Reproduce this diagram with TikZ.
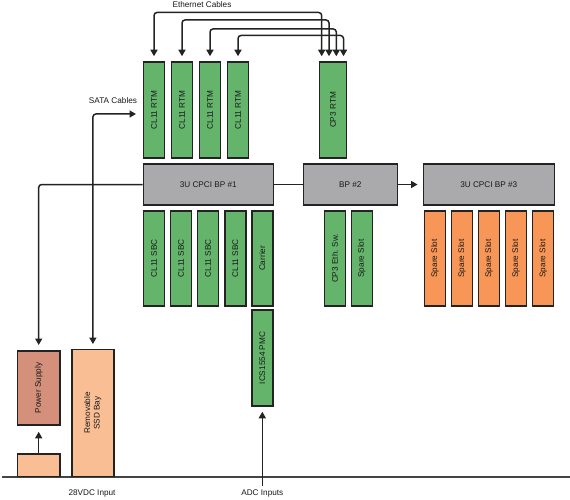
\documentclass[tikz,border=0pt]{standalone}
\usepackage{fontspec}
\setmainfont{Liberation Sans}
\usetikzlibrary{arrows.meta}
\definecolor{grn}{RGB}{100,180,108}
\definecolor{bpg}{RGB}{170,169,171}
\definecolor{org}{RGB}{247,150,86}
\definecolor{psc}{RGB}{212,144,122}
\definecolor{ssdc}{RGB}{250,190,148}
\definecolor{edge}{RGB}{35,35,35}
\definecolor{txt}{RGB}{25,25,25}
\definecolor{gnd}{RGB}{68,68,68}
\tikzset{
  box/.style={draw=edge, line width=1.5pt, inner sep=0pt, text=txt, font=\fontsize{8.2}{9.5}\selectfont},
  slot/.style={box, minimum width=21pt, minimum height=96pt},
  gslot/.style={slot, fill=grn},
  oslot/.style={slot, fill=org},
  bp/.style={box, fill=bpg, minimum height=41pt},
  conn/.style={draw=edge, line width=1.5pt, rounded corners=3pt},
  tip/.tip={Triangle[length=6.5pt,width=7pt]},
  lbl/.style={text=txt, inner sep=0pt, font=\fontsize{8.2}{9.5}\selectfont},
}
\begin{document}
\begin{tikzpicture}[x=1pt,y=-1pt]
\useasboundingbox (0,0) rectangle (570,500);
% ground line
\coordinate (gl) at (2,476.7);
\coordinate (gr) at (570,476.7);
\draw[gnd, line width=2.2pt] (gl) -- (gr);
% RTMs
\node[gslot] (r1) at (154,110) {\rotatebox{90}{CL11 RTM}};
\node[gslot] (r2) at (182,110) {\rotatebox{90}{CL11 RTM}};
\node[gslot] (r3) at (210,110) {\rotatebox{90}{CL11 RTM}};
\node[gslot] (r4) at (238,110) {\rotatebox{90}{CL11 RTM}};
\node[gslot, minimum width=27pt] (cp3) at (333,110) {\rotatebox{90}{CP3 RTM}};
% backplanes
\node[bp, minimum width=130pt] (bp1) at (208.3,184.5) {3U CPCI BP \#1};
\node[bp, minimum width=94pt] (bp2) at (350.3,184.5) {BP \#2};
\node[bp, minimum width=131pt] (bp3) at (488.8,184.5) {3U CPCI BP \#3};
% SBCs
\node[gslot, minimum height=95pt] (s1) at (154,258.4) {\rotatebox{90}{CL11 SBC}};
\node[gslot, minimum height=95pt] (s2) at (181,258.4) {\rotatebox{90}{CL11 SBC}};
\node[gslot, minimum height=95pt] (s3) at (208,258.4) {\rotatebox{90}{CL11 SBC}};
\node[gslot, minimum height=95pt] (s4) at (235.3,258.4) {\rotatebox{90}{CL11 SBC}};
\node[gslot, minimum height=95pt] (car) at (262.3,258.4) {\rotatebox{90}{Carrier}};
\node[gslot, minimum height=96pt] (ics) at (262.3,358) {\rotatebox{90}{ICS1554 PMC}};
\node[gslot, minimum height=95pt] (esw) at (335,258.4) {\rotatebox{90}{CP3 Eth. Sw.}};
\node[gslot, minimum height=95pt] (sp0) at (361.8,258.4) {\rotatebox{90}{Spare Slot}};
% orange spare slots
\node[oslot, minimum height=95pt] (o1) at (435,258.4) {\rotatebox{90}{Spare Slot}};
\node[oslot, minimum height=95pt] (o2) at (461.9,258.4) {\rotatebox{90}{Spare Slot}};
\node[oslot, minimum height=95pt] (o3) at (489,258.4) {\rotatebox{90}{Spare Slot}};
\node[oslot, minimum height=95pt] (o4) at (516,258.4) {\rotatebox{90}{Spare Slot}};
\node[oslot, minimum height=95pt] (o5) at (543.2,258.4) {\rotatebox{90}{Spare Slot}};
% power and storage
\node[box, fill=psc, minimum width=42.7pt, minimum height=74.3pt] (ps) at (38.7,387.9) {\rotatebox{90}{Power Supply}};
\node[box, fill=ssdc, minimum width=42.7pt, minimum height=22.7pt] (pin) at (38.7,465.3) {};
\node[box, fill=ssdc, minimum width=42.3pt, minimum height=127.4pt] (ssd) at (92.9,413) {\rotatebox{90}{\begin{tabular}{@{}c@{}}Removable\\SSD Bay\end{tabular}}};
% labels
\node[lbl] (eth) at (202,5) {Ethernet Cables};
\node[lbl] (sata) at (113,100.5) {SATA Cables};
\node[lbl] (vdc) at (92,493) {28VDC Input};
\node[lbl] (adcl) at (262.3,493.5) {ADC Inputs};
% ethernet cables
\draw[conn, tip-tip, shorten <=5pt, shorten >=5pt] (r1.north) -- (r1.north |- 0,12.5) -| ([xshift=-11.3pt]cp3.north);
\draw[conn, tip-tip, shorten <=5pt, shorten >=5pt] (r2.north) -- (r2.north |- 0,20) -| ([xshift=-4pt]cp3.north);
\draw[conn, tip-tip, shorten <=5pt, shorten >=5pt] (r3.north) -- (r3.north |- 0,29) -| ([xshift=3.3pt]cp3.north);
\draw[conn, tip-tip, shorten <=5pt, shorten >=5pt] (r4.north) -- (r4.north |- 0,35.5) -| ([xshift=10.5pt]cp3.north);
% SATA cable
\coordinate (sataend) at (136,114);
\draw[conn, tip-tip, shorten <=4.5pt] (ssd.north) |- (sataend);
% power
\draw[conn, -tip, shorten >=5pt] (bp1.west) -| (ps.north);
\draw[conn, -tip, shorten >=6pt] (pin.north) -- (ps.south);
% backplane links
\draw[conn] (bp1.east) -- (bp2.west);
\draw[conn, -tip, shorten >=5pt] (bp2.east) -- (bp3.west);
% ADC
\coordinate (adc) at (262.3,486);
\draw[conn, -tip, shorten >=5pt] (adc) -- (ics.south);
\end{tikzpicture}
\end{document}
